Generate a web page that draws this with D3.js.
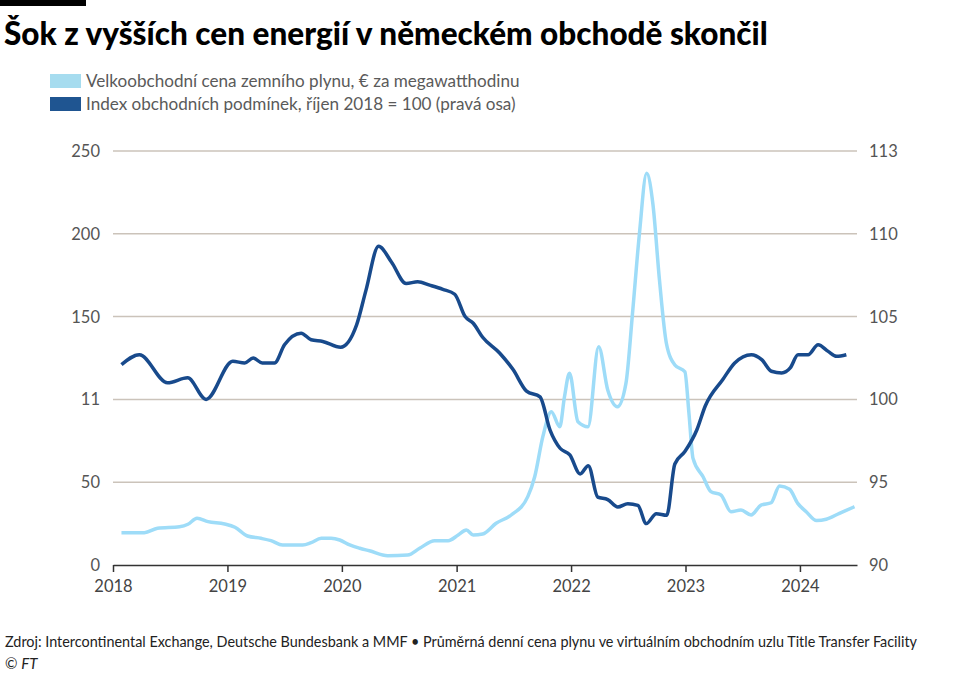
<!DOCTYPE html>
<html>
<head>
<meta charset="utf-8">
<script src="https://cdn.jsdelivr.net/npm/d3@7"></script>
<style>
body { margin: 0; background: #fff; }
text { font-family: Lato, "Open Sans", sans-serif; }
</style>
</head>
<body>
<div id="chart"></div>
<script>
var width = 980,
height = 686;

// Data

var gasDates = ["2018-01-28","2018-04-11","2018-05-23","2018-08-01","2018-08-28","2018-09-26","2018-10-31","2018-12-23",
"2019-01-25","2019-03-06","2019-04-18","2019-05-20","2019-06-26","2019-08-29","2019-09-25","2019-10-27","2019-11-28","2019-12-25",
"2020-01-26","2020-02-27","2020-03-29","2020-05-26","2020-07-29","2020-09-05","2020-10-23","2020-12-05",
"2021-01-06","2021-02-01","2021-02-23","2021-03-25","2021-05-07","2021-06-24","2021-08-16","2021-09-07","2021-10-03","2021-10-30","2021-11-26","2021-12-11","2021-12-27",
"2022-01-23","2022-02-24","2022-03-30","2022-04-28","2022-05-29","2022-06-25","2022-07-16","2022-08-07","2022-08-30","2022-09-19","2022-10-10","2022-11-01","2022-11-28","2022-12-30",
"2023-01-12","2023-01-25","2023-02-26","2023-03-23","2023-04-24","2023-05-26","2023-06-27","2023-07-29","2023-08-30","2023-10-01","2023-10-28","2023-11-29","2023-12-25",
"2024-01-21","2024-02-23","2024-03-25","2024-05-06","2024-06-23"]
var gasPrice = [19.5,19.5,22.2,23.1,24.6,28.2,26.2,24.8,
22.8,17.5,16.1,14.7,12.1,12.1,13.5,16.1,16.1,15.1,
12.1,10.1,8.6,5.6,6.0,10.1,14.7,14.7,
18.1,21.1,18.1,18.7,25.2,30.2,41.3,53.3,77.5,92.6,83.5,101.6,115.8,
86.5,83.5,131.8,105.7,95.6,109.7,152,200,236.5,218,172,133.9,120.8,116.7,
91.6,64.4,53.3,44.3,42.3,32.2,33.2,30.2,36.2,37.6,47.7,45.7,37.2,
32.2,26.8,27.6,31.2,35.2]

var indexDates = ["2018-01-28","2018-03-26","2018-06-24","2018-08-27","2018-10-25",
"2019-01-18","2019-02-25","2019-03-24","2019-04-22","2019-05-31","2019-07-02","2019-08-24","2019-09-25","2019-11-01","2019-12-28",
"2020-02-17","2020-03-18","2020-04-27","2020-06-07","2020-07-24","2020-08-30","2020-10-07","2020-11-18","2020-12-26",
"2021-01-28","2021-02-23","2021-03-25","2021-05-18","2021-06-30","2021-08-12","2021-09-24","2021-10-26","2021-11-27","2021-12-28",
"2022-01-30","2022-02-25","2022-03-27","2022-04-28","2022-05-30","2022-07-01","2022-08-02","2022-08-29","2022-09-30","2022-11-02","2022-11-28","2022-12-30",
"2023-02-06","2023-03-05","2023-04-30","2023-06-07","2023-07-30","2023-09-01","2023-10-02","2023-11-04","2023-12-01","2023-12-26",
"2024-01-27","2024-02-28","2024-03-31","2024-04-27","2024-05-28"]
var tradeIndex = [102.1,102.7,101.0,101.3,100.0,
102.3,102.2,102.5,102.2,102.2,103.3,104.0,103.6,103.5,103.15,
104.5,106.6,109.25,108.3,107.0,107.1,106.9,106.65,106.35,
105.0,104.6,103.75,102.8,101.8,100.5,100.15,98.15,97.05,96.65,
95.5,96.0,94.1,93.95,93.5,93.7,93.6,92.5,93.1,93.0,96.1,96.85,
98.15,99.6,101.2,102.2,102.7,102.4,101.7,101.6,101.9,102.7,
102.7,103.3,102.9,102.6,102.7]

var leftTicks = [0, 50, 100, 150, 200, 250]
var leftLabels = ["0", "50", "11", "150", "200", "250"]
var rightTicks = [90, 95, 100, 105, 110, 115]
var rightLabels = ["90", "95", "100", "105", "110", "113"]
var years = ["2018", "2019", "2020", "2021", "2022", "2023", "2024"]

var legendItems = ["Velkoobchodní cena zemního plynu, € za megawatthodinu",
"Index obchodních podmínek, říjen 2018 = 100 (pravá osa)"]

var lightBlue = "#9edcf8",
darkBlue = "#184a8c",
gridColor = "#cbc3ba";

var parse = d3.timeParse("%Y-%m-%d")

var svg = d3.select("#chart").append("svg")
.attr('width', width)
.attr('height', height)

var x = d3.scaleTime()
.domain([new Date(2018, 0, 1), new Date(2024, 6, 1)])
.range([113, 857])

var yLeft = d3.scaleLinear().domain([0, 250]).range([565, 151])
var yRight = d3.scaleLinear().domain([90, 115]).range([565, 151])

// top bar + title
svg.append('rect').attr('x', 0).attr('y', 0).attr('width', 86).attr('height', 6).attr('fill', '#000')
svg.append('text')
.attr('x', 4).attr('y', 45)
.attr('font-size', 31.5).attr('font-weight', 900)
.attr('fill', '#000')
.text("Šok z vyšších cen energií v německém obchodě skončil")

// legend
svg.selectAll('.legsw')
.data(legendItems)
.join('rect')
.attr('x', 50)
.attr('y', function (d, i) { return 74 + i * 23 })
.attr('width', 31).attr('height', 14)
.attr('fill', function (d, i) { return i === 0 ? "#a6dcef" : "#1f5591" })
svg.selectAll('.legtx')
.data(legendItems)
.join('text')
.attr('x', 86)
.attr('y', function (d, i) { return 87 + i * 23 })
.attr('font-size', 17.1).attr('fill', '#5a5a5a')
.text(function (d) { return d })

// gridlines
svg.selectAll('.grid')
.data(leftTicks.slice(1))
.join('line')
.attr('x1', 113).attr('x2', 857)
.attr('y1', function (d) { return yLeft(d) })
.attr('y2', function (d) { return yLeft(d) })
.attr('stroke', gridColor).attr('stroke-width', 1.5)

// left axis labels
svg.selectAll('.ltick')
.data(leftTicks)
.join('text')
.attr('x', 100)
.attr('y', function (d) { return yLeft(d) + 6 })
.attr('text-anchor', 'end')
.attr('font-size', 16.5).attr('fill', '#555')
.text(function (d, i) { return leftLabels[i] })

// right axis labels
svg.selectAll('.rtick')
.data(rightTicks)
.join('text')
.attr('x', 869)
.attr('y', function (d) { return yRight(d) + 6 })
.attr('font-size', 16.5).attr('fill', '#555')
.text(function (d, i) { return rightLabels[i] })

// x axis
var xAxis = d3.axisBottom(x)
.tickValues(years.map(function (y) { return new Date(+y, 0, 1) }))
.tickSize(7)
.tickSizeOuter(0)
.tickFormat(d3.timeFormat("%Y"))

var gx = svg.append('g').attr('transform', 'translate(0,565)').call(xAxis)
gx.select('.domain').attr('stroke', '#333').attr('stroke-width', 1.5)
gx.selectAll('.tick line').attr('stroke', '#333').attr('stroke-width', 1.5)
gx.selectAll('.tick text')
.attr('font-size', 16.5).attr('fill', '#444').attr('dy', '1.05em')
.style('font-family', 'Lato, "Open Sans", sans-serif')

// lines
var gasData = gasDates.map(function (d, i) { return { date: parse(d), value: gasPrice[i] } })
var indexData = indexDates.map(function (d, i) { return { date: parse(d), value: tradeIndex[i] } })

var gasLine = d3.line()
.x(function (d) { return x(d.date) })
.y(function (d) { return yLeft(d.value) })
.curve(d3.curveMonotoneX)

var indexLine = d3.line()
.x(function (d) { return x(d.date) })
.y(function (d) { return yRight(d.value) })
.curve(d3.curveMonotoneX)

svg.append('path')
.datum(gasData)
.attr('d', gasLine)
.attr('fill', 'none')
.attr('stroke', lightBlue)
.attr('stroke-width', 3.5)
.attr('stroke-linejoin', 'round')

svg.append('path')
.datum(indexData)
.attr('d', indexLine)
.attr('fill', 'none')
.attr('stroke', darkBlue)
.attr('stroke-width', 3.5)
.attr('stroke-linejoin', 'round')

// footer
svg.append('text')
.attr('x', 5).attr('y', 647)
.attr('font-size', 14.4).attr('fill', '#222')
.text("Zdroj: Intercontinental Exchange, Deutsche Bundesbank a MMF • Průměrná denní cena plynu ve virtuálním obchodním uzlu Title Transfer Facility")
svg.append('text')
.attr('x', 5).attr('y', 669)
.attr('font-size', 15).attr('fill', '#222')
.text("© ")
.append('tspan').attr('font-style', 'italic').text("FT")
</script>
</body>
</html>
